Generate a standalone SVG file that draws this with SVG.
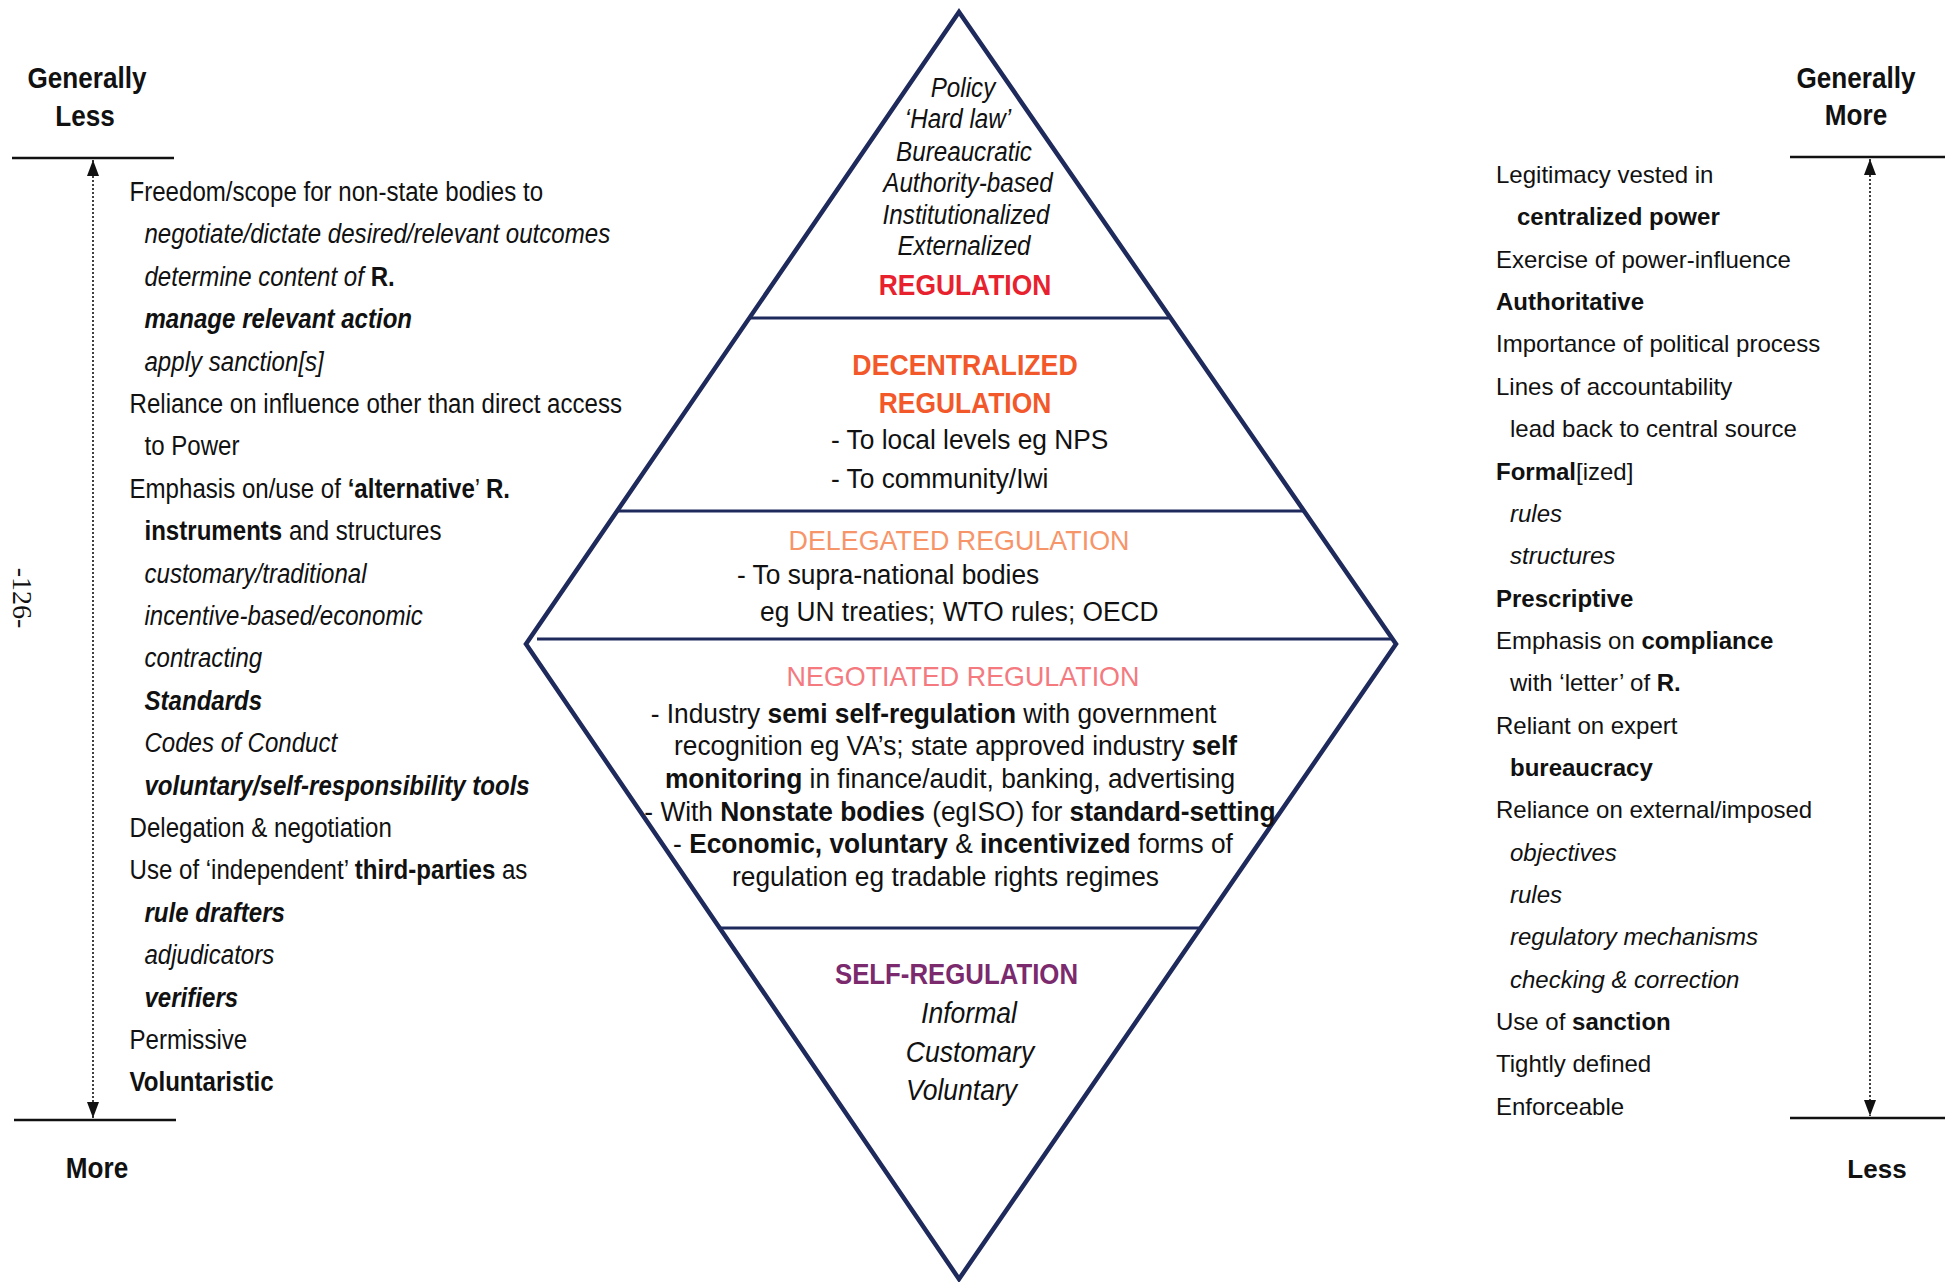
<svg xmlns="http://www.w3.org/2000/svg" width="1953" height="1282" viewBox="0 0 1953 1282">
<style>
text { font-family: "Liberation Sans", Arial, sans-serif; fill: #111; }
.l { font-size: 28px; }
.r { font-size: 24px; }
.b { font-weight: bold; }
.i { font-style: italic; }
.bi { font-weight: bold; font-style: italic; }
.hd { font-size: 30px; font-weight: bold; }
.dt { font-size: 28px; font-style: italic; }
.dbi { font-size: 30px; font-style: italic; }
.db { font-size: 28px; }
.tt { font-size: 30px; font-weight: bold; }
.tr { font-size: 28px; }
.c { text-anchor: middle; }
.edge { fill: none; stroke: #1f2a5c; stroke-width: 4.5; stroke-linejoin: miter; }
.band { stroke: #1f2a5c; stroke-width: 3; }
.axis { stroke: #111; stroke-width: 2.5; }
.dot { stroke: #111; stroke-width: 1.6; stroke-dasharray: 2 2; fill: none; }
</style>
<defs>
<marker id="ah" viewBox="0 0 16 12" refX="16" refY="6" markerWidth="16" markerHeight="12" markerUnits="userSpaceOnUse" orient="auto-start-reverse">
<path d="M0,0 L16,6 L0,12 z" fill="#111"/>
</marker>
</defs>

<g id="page-number">
<text x="22" y="598" transform="rotate(90 22 598)" text-anchor="middle" dominant-baseline="central" style="font-family:'Liberation Serif','Times New Roman',serif;font-size:28px">-126-</text>
</g>

<g id="connectors">
<line class="axis" x1="12" y1="158" x2="174" y2="158"/>
<line class="axis" x1="14" y1="1120" x2="176" y2="1120"/>
<line class="dot" x1="93" y1="160" x2="93" y2="1118" marker-start="url(#ah)" marker-end="url(#ah)"/>
<line class="axis" x1="1790" y1="157" x2="1945" y2="157"/>
<line class="axis" x1="1790" y1="1118" x2="1945" y2="1118"/>
<line class="dot" x1="1870" y1="159" x2="1870" y2="1116" marker-start="url(#ah)" marker-end="url(#ah)"/>
</g>

<g id="axis-labels">
<text class="hd c" transform="matrix(0.87 0 0 1 87 88)" x="0" y="0">Generally</text>
<text class="hd c" transform="matrix(0.87 0 0 1 85 126)" x="0" y="0">Less</text>
<text class="hd c" transform="matrix(0.87 0 0 1 97 1178)" x="0" y="0">More</text>
<text class="hd c" transform="matrix(0.87 0 0 1 1856 88)" x="0" y="0">Generally</text>
<text class="hd c" transform="matrix(0.87 0 0 1 1856 125)" x="0" y="0">More</text>
<text class="c" style="font-size:26px;font-weight:bold" x="1877" y="1178">Less</text>
</g>

<g id="left-column" transform="matrix(0.86 0 0 1 129.5 0)">
<text class="l" x="0" y="201">Freedom/scope for non-state bodies to</text>
<text class="l i" x="17.4" y="243.4">negotiate/dictate desired/relevant outcomes</text>
<text class="l" x="17.4" y="285.8"><tspan class="i">determine content of </tspan><tspan class="b">R.</tspan></text>
<text class="l bi" x="17.4" y="328.2">manage relevant action</text>
<text class="l i" x="17.4" y="370.6">apply sanction[s]</text>
<text class="l" x="0" y="413">Reliance on influence other than direct access</text>
<text class="l" x="17.4" y="455.4">to Power</text>
<text class="l" x="0" y="497.8">Emphasis on/use of <tspan class="b">‘alternative</tspan>’ <tspan class="b">R.</tspan></text>
<text class="l" x="17.4" y="540.2"><tspan class="b">instruments</tspan> and structures</text>
<text class="l i" x="17.4" y="582.6">customary/traditional</text>
<text class="l i" x="17.4" y="625">incentive-based/economic</text>
<text class="l i" x="17.4" y="667.4">contracting</text>
<text class="l bi" x="17.4" y="709.8">Standards</text>
<text class="l i" x="17.4" y="752.2">Codes of Conduct</text>
<text class="l bi" x="17.4" y="794.6">voluntary/self-responsibility tools</text>
<text class="l" x="0" y="837">Delegation &amp; negotiation</text>
<text class="l" x="0" y="879.4">Use of ‘independent’ <tspan class="b">third-parties</tspan> as</text>
<text class="l bi" x="17.4" y="921.8">rule drafters</text>
<text class="l i" x="17.4" y="964.2">adjudicators</text>
<text class="l bi" x="17.4" y="1006.6">verifiers</text>
<text class="l" x="0" y="1049">Permissive</text>
<text class="l b" x="0" y="1091.4">Voluntaristic</text>
</g>

<g id="right-column">
<text class="r" x="1496" y="183">Legitimacy vested in</text>
<text class="r b" x="1517" y="225.4">centralized power</text>
<text class="r" x="1496" y="267.7">Exercise of power-influence</text>
<text class="r b" x="1496" y="310">Authoritative</text>
<text class="r" x="1496" y="352.4">Importance of political process</text>
<text class="r" x="1496" y="394.8">Lines of accountability</text>
<text class="r" x="1510" y="437.1">lead back to central source</text>
<text class="r" x="1496" y="479.5"><tspan class="b">Formal</tspan>[ized]</text>
<text class="r i" x="1510" y="521.8">rules</text>
<text class="r i" x="1510" y="564.2">structures</text>
<text class="r b" x="1496" y="606.5">Prescriptive</text>
<text class="r" x="1496" y="648.9">Emphasis on <tspan class="b">compliance</tspan></text>
<text class="r" x="1510" y="691.2">with ‘letter’ of <tspan class="b">R.</tspan></text>
<text class="r" x="1496" y="733.6">Reliant on expert</text>
<text class="r b" x="1510" y="775.9">bureaucracy</text>
<text class="r" x="1496" y="818.3">Reliance on external/imposed</text>
<text class="r i" x="1510" y="860.6">objectives</text>
<text class="r i" x="1510" y="903">rules</text>
<text class="r i" x="1510" y="945.3">regulatory mechanisms</text>
<text class="r i" x="1510" y="987.7">checking &amp; correction</text>
<text class="r" x="1496" y="1030">Use of <tspan class="b">sanction</tspan></text>
<text class="r" x="1496" y="1072.4">Tightly defined</text>
<text class="r" x="1496" y="1114.7">Enforceable</text>
</g>

<g id="diamond">
<polygon class="edge" points="959,12 1396,644 959,1279 526,644"/>
<line class="band" x1="749" y1="318" x2="1171" y2="318"/>
<line class="band" x1="617" y1="511" x2="1304" y2="511"/>
<line class="band" x1="537" y1="639" x2="1393" y2="639"/>
<line class="band" x1="720" y1="928" x2="1200" y2="928"/>
</g>

<g id="node-regulation">
<text class="dt c" transform="matrix(0.865 0 0 1 963 97)" x="0" y="0">Policy</text>
<text class="dt c" transform="matrix(0.865 0 0 1 958 128)" x="0" y="0">‘Hard law’</text>
<text class="dt c" transform="matrix(0.865 0 0 1 964 161)" x="0" y="0">Bureaucratic</text>
<text class="dt c" transform="matrix(0.865 0 0 1 968 192)" x="0" y="0">Authority-based</text>
<text class="dt c" transform="matrix(0.865 0 0 1 966 224)" x="0" y="0">Institutionalized</text>
<text class="dt c" transform="matrix(0.865 0 0 1 964 255)" x="0" y="0">Externalized</text>
<text class="tt c" transform="matrix(0.88 0 0 1 965 295)" x="0" y="0" style="fill:#e8212e">REGULATION</text>
</g>

<g id="node-decentralized">
<text class="tt c" transform="matrix(0.89 0 0 1 965 375)" x="0" y="0" style="fill:#f2582a">DECENTRALIZED</text>
<text class="tt c" transform="matrix(0.88 0 0 1 965 413)" x="0" y="0" style="fill:#f2582a">REGULATION</text>
<text class="db" transform="matrix(0.94 0 0 1 831 449)" x="0" y="0">- To local levels eg NPS</text>
<text class="db" transform="matrix(0.94 0 0 1 831 488)" x="0" y="0">- To community/Iwi</text>
</g>

<g id="node-delegated">
<text class="tr c" transform="matrix(0.96 0 0 1 959 550)" x="0" y="0" style="fill:#f7956a">DELEGATED REGULATION</text>
<text class="db" transform="matrix(0.94 0 0 1 737 584)" x="0" y="0">- To supra-national bodies</text>
<text class="db" transform="matrix(0.94 0 0 1 760 621)" x="0" y="0">eg UN treaties; WTO rules; OECD</text>
</g>

<g id="node-negotiated">
<text class="tr c" transform="matrix(0.96 0 0 1 963 686)" x="0" y="0" style="fill:#f47a80">NEGOTIATED REGULATION</text>
<text class="db c" transform="matrix(0.94 0 0 1 933.5 723)" x="0" y="0">- Industry <tspan class="b">semi self-regulation</tspan> with government</text>
<text class="db c" transform="matrix(0.94 0 0 1 955.5 755)" x="0" y="0">recognition eg VA’s; state approved industry <tspan class="b">self</tspan></text>
<text class="db c" transform="matrix(0.94 0 0 1 950 788)" x="0" y="0"><tspan class="b">monitoring</tspan> in finance/audit, banking, advertising</text>
<text class="db c" transform="matrix(0.94 0 0 1 960 821)" x="0" y="0">- With <tspan class="b">Nonstate bodies</tspan> (egISO) for <tspan class="b">standard-setting</tspan></text>
<text class="db c" transform="matrix(0.94 0 0 1 953 853)" x="0" y="0">- <tspan class="b">Economic, voluntary</tspan> &amp; <tspan class="b">incentivized</tspan> forms of</text>
<text class="db c" transform="matrix(0.94 0 0 1 945.5 886)" x="0" y="0">regulation eg tradable rights regimes</text>
</g>

<g id="node-self-regulation">
<text class="tt c" transform="matrix(0.86 0 0 1 956.5 984)" x="0" y="0" style="fill:#7b2a6e">SELF-REGULATION</text>
<text class="dbi c" transform="matrix(0.885 0 0 1 969 1023)" x="0" y="0">Informal</text>
<text class="dbi c" transform="matrix(0.885 0 0 1 970 1062)" x="0" y="0">Customary</text>
<text class="dbi c" transform="matrix(0.885 0 0 1 961.5 1100)" x="0" y="0">Voluntary</text>
</g>
</svg>
